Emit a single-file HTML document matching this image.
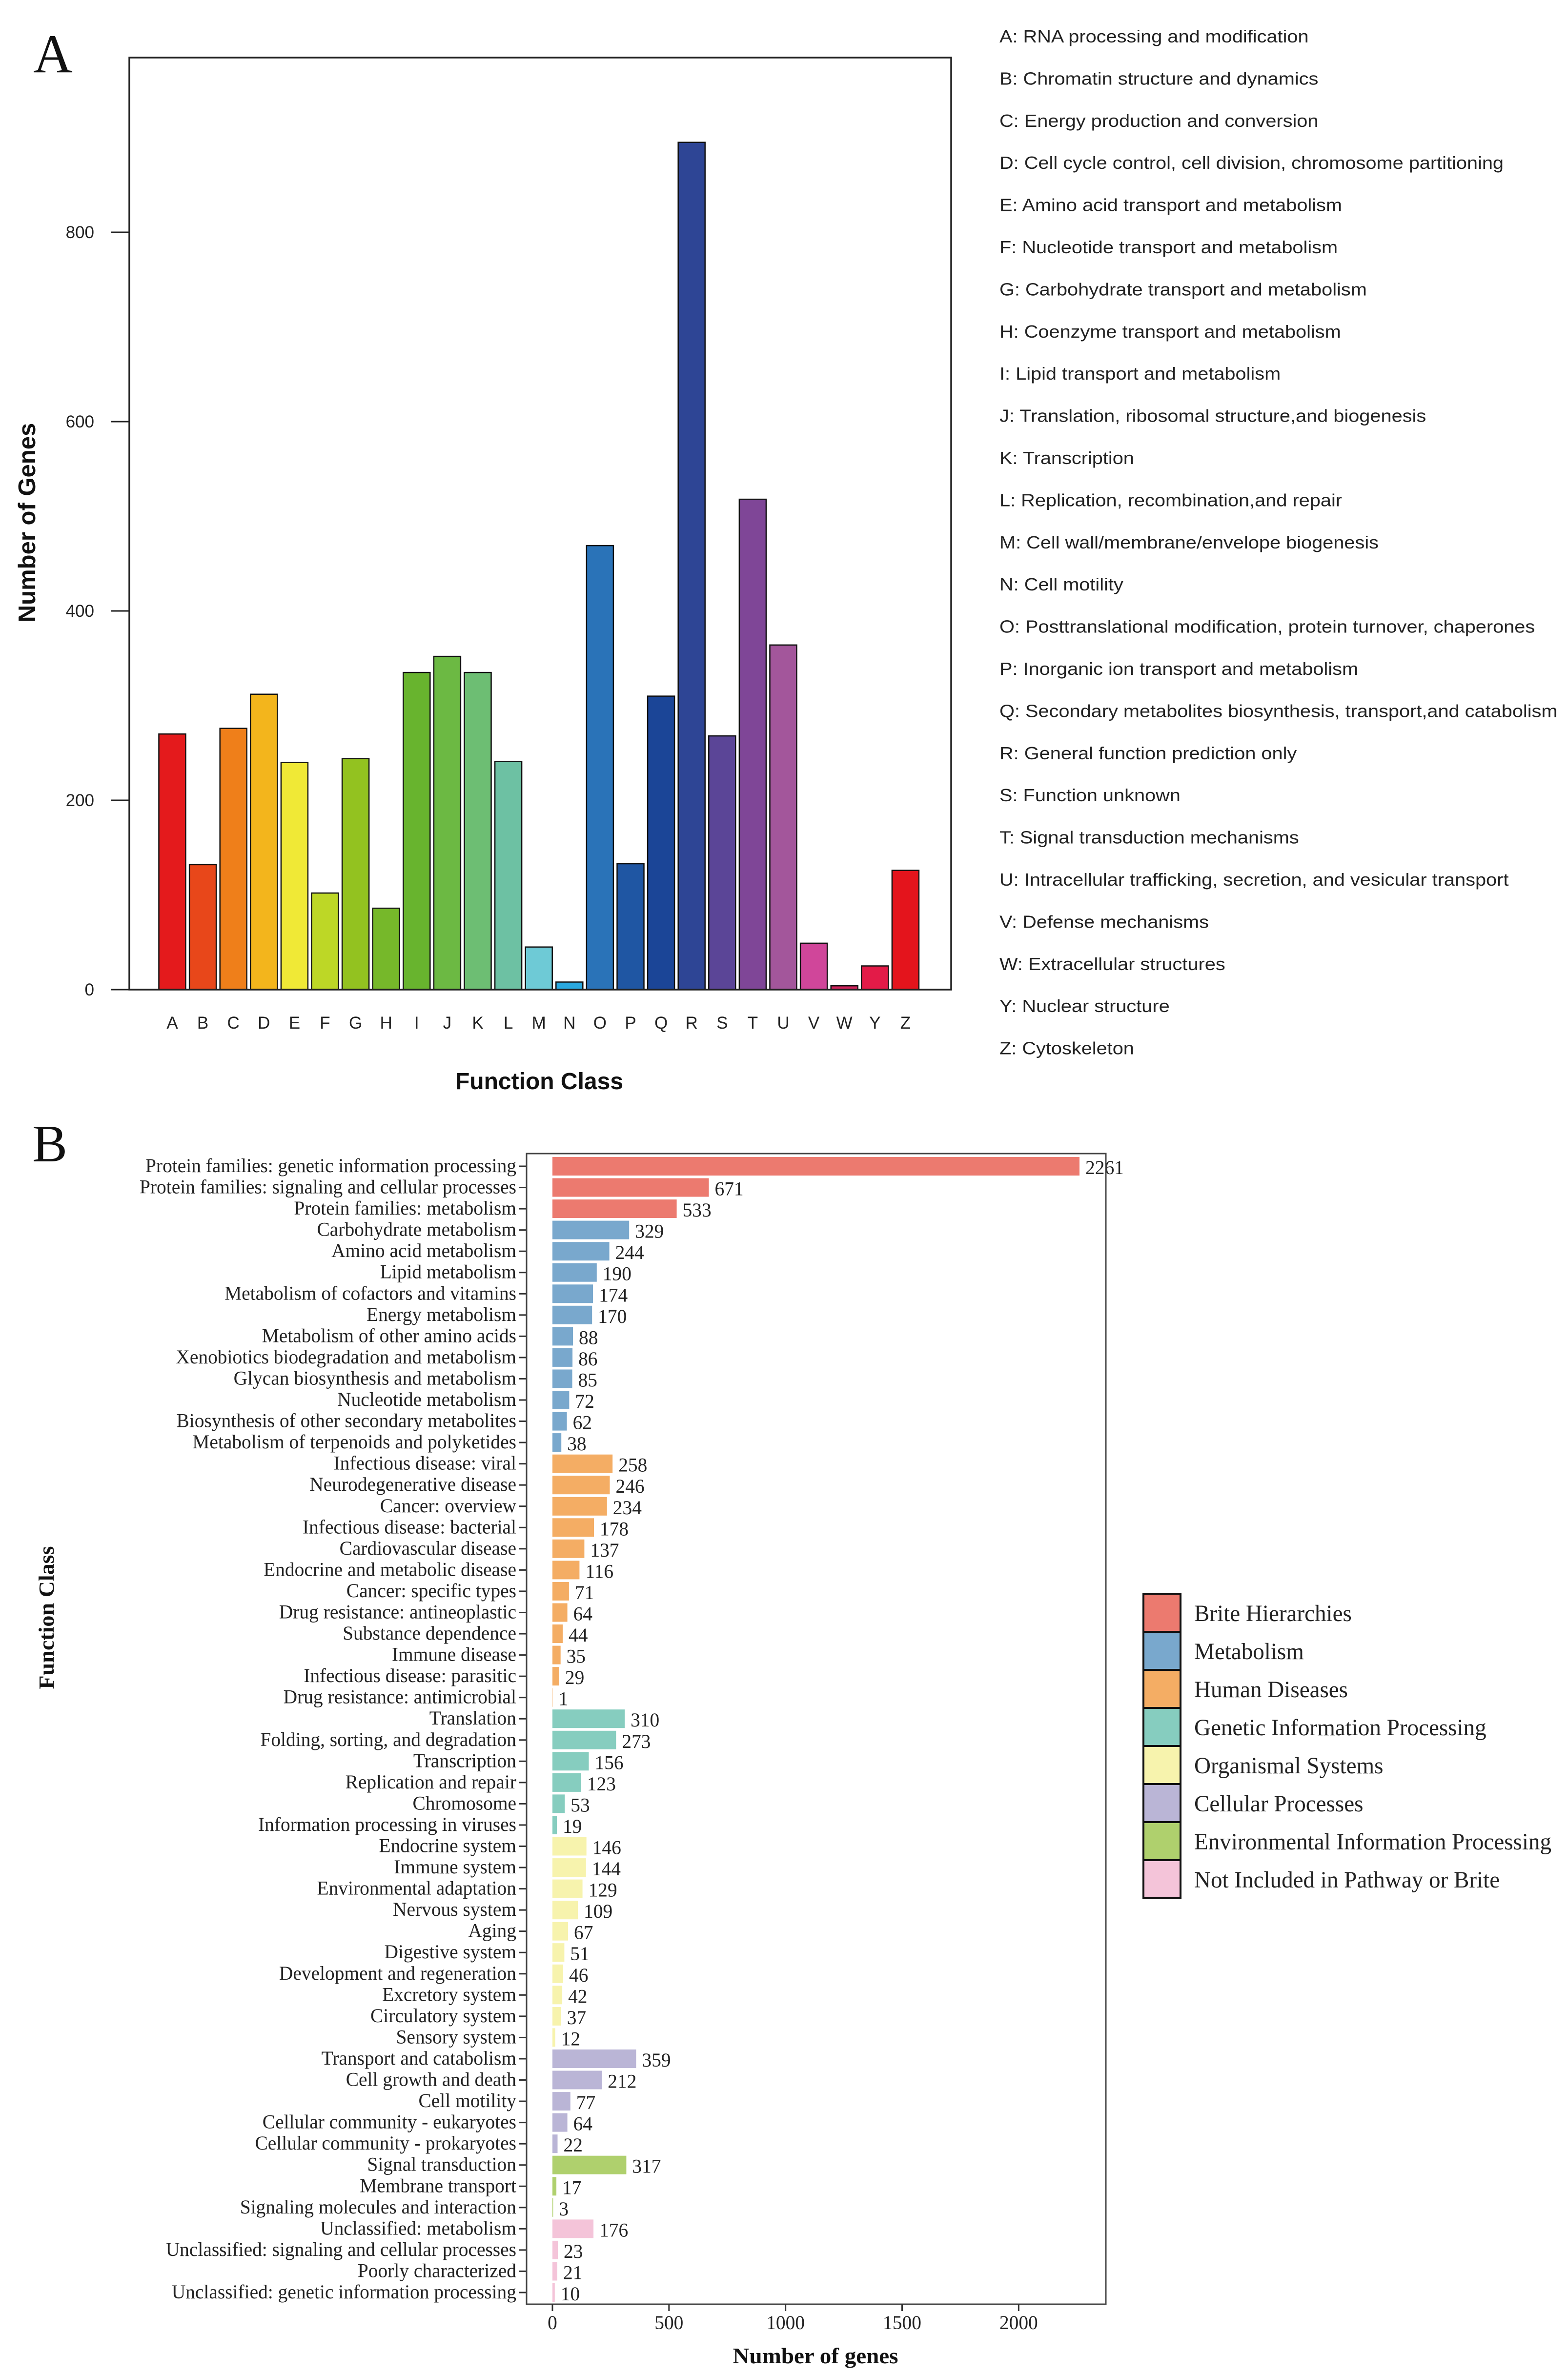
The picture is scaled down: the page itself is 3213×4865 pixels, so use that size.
<!DOCTYPE html>
<html><head><meta charset="utf-8">
<style>
html,body{margin:0;padding:0;background:#fff;}
svg{display:block;}
.sans{font-family:"Liberation Sans",Arial,sans-serif;}
.serif{font-family:"Liberation Serif","Times New Roman",serif;}
</style></head>
<body>
<svg id="fig" xmlns="http://www.w3.org/2000/svg" width="3213" height="4865" viewBox="0 0 3213 4865">
<rect x="0" y="0" width="3213" height="4865" fill="#fff"/>
<g id="panelA"></g>
<g id="panelB"></g>
</svg>
<script>
// ---------- Panel A data ----------
const cogLetters = ["A","B","C","D","E","F","G","H","I","J","K","L","M","N","O","P","Q","R","S","T","U","V","W","Y","Z"];
const cogCounts = [270,132,276,312,240,102,244,86,335,352,335,241,45,8,469,133,310,895,268,518,364,49,4,25,126];
const cogColors = ["#e41a1c","#e8471a","#ef7f1a","#f3b51c","#f0e936","#bdd726","#93c220","#76b82a","#68b42e","#6cb943","#6dbe73","#6dc1a3","#6ecad6","#29a9e0","#2a73b8","#1f56a3","#1b4597","#2e4595","#5b4597","#7f4697","#a3569b","#d0469a","#d0235c","#e31b48","#e4141c"];
const cogYTicks = [0,200,400,600,800];
const cogDescriptions = ["A: RNA processing and modification","B: Chromatin structure and dynamics","C: Energy production and conversion","D: Cell cycle control, cell division, chromosome partitioning","E: Amino acid transport and metabolism","F: Nucleotide transport and metabolism","G: Carbohydrate transport and metabolism","H: Coenzyme transport and metabolism","I: Lipid transport and metabolism","J: Translation, ribosomal structure,and biogenesis","K: Transcription","L: Replication, recombination,and repair","M: Cell wall/membrane/envelope biogenesis","N: Cell motility","O: Posttranslational modification, protein turnover, chaperones","P: Inorganic ion transport and metabolism","Q: Secondary metabolites biosynthesis, transport,and catabolism","R: General function prediction only","S: Function unknown","T: Signal transduction mechanisms","U: Intracellular trafficking, secretion, and vesicular transport","V: Defense mechanisms","W: Extracellular structures","Y: Nuclear structure","Z: Cytoskeleton"];

// ---------- Panel B data ----------
const keggLabels = ["Protein families: genetic information processing","Protein families: signaling and cellular processes","Protein families: metabolism","Carbohydrate metabolism","Amino acid metabolism","Lipid metabolism","Metabolism of cofactors and vitamins","Energy metabolism","Metabolism of other amino acids","Xenobiotics biodegradation and metabolism","Glycan biosynthesis and metabolism","Nucleotide metabolism","Biosynthesis of other secondary metabolites","Metabolism of terpenoids and polyketides","Infectious disease: viral","Neurodegenerative disease","Cancer: overview","Infectious disease: bacterial","Cardiovascular disease","Endocrine and metabolic disease","Cancer: specific types","Drug resistance: antineoplastic","Substance dependence","Immune disease","Infectious disease: parasitic","Drug resistance: antimicrobial","Translation","Folding, sorting, and degradation","Transcription","Replication and repair","Chromosome","Information processing in viruses","Endocrine system","Immune system","Environmental adaptation","Nervous system","Aging","Digestive system","Development and regeneration","Excretory system","Circulatory system","Sensory system","Transport and catabolism","Cell growth and death","Cell motility","Cellular community - eukaryotes","Cellular community - prokaryotes","Signal transduction","Membrane transport","Signaling molecules and interaction","Unclassified: metabolism","Unclassified: signaling and cellular processes","Poorly characterized","Unclassified: genetic information processing"];
const keggValues = [2261,671,533,329,244,190,174,170,88,86,85,72,62,38,258,246,234,178,137,116,71,64,44,35,29,1,310,273,156,123,53,19,146,144,129,109,67,51,46,42,37,12,359,212,77,64,22,317,17,3,176,23,21,10];
const keggGroupIdx = [0,0,0,1,1,1,1,1,1,1,1,1,1,1,2,2,2,2,2,2,2,2,2,2,2,2,3,3,3,3,3,3,4,4,4,4,4,4,4,4,4,4,5,5,5,5,5,6,6,6,7,7,7,7];
const keggGroups = ["Brite Hierarchies","Metabolism","Human Diseases","Genetic Information Processing","Organismal Systems","Cellular Processes","Environmental Information Processing","Not Included in Pathway or Brite"];
const keggGroupColors = ["#ec7a6f","#79a8cd","#f4ad64","#86cdbf","#f7f3ad","#bab5d6","#afd06d","#f4c4d9"];
const keggXTicks = [0,500,1000,1500,2000];

const NS = "http://www.w3.org/2000/svg";
function mk(parent, tag, attrs, text){
  const e = document.createElementNS(NS, tag);
  for (const k in attrs) e.setAttribute(k, attrs[k]);
  if (text !== undefined) e.textContent = text;
  parent.appendChild(e);
  return e;
}
function condense(el, factor){
  const L = el.getComputedTextLength();
  el.setAttribute('textLength', (L*factor).toFixed(1));
  el.setAttribute('lengthAdjust','spacingAndGlyphs');
}

// ================= PANEL A =================
const A = document.getElementById('panelA');
const aL = 265, aR = 1949, aT = 118, aB = 2028;
const ayScale = v => aB - v * (2028 - 476) / 800;
const axCenter = i => 353 + i * 62.6;
const aBarW = 55;

let t = mk(A,'text',{x:68,y:148,'font-size':112,class:'serif',fill:'#111'},'A');



cogLetters.forEach((c,i)=>{
  const h = aB - ayScale(cogCounts[i]);
  const r = mk(A,'rect',{x:(axCenter(i)-aBarW/2).toFixed(1),y:ayScale(cogCounts[i]).toFixed(1),width:aBarW,height:h.toFixed(1),fill:cogColors[i],stroke:'#111','stroke-width':2.5});
  
  
  const l = mk(A,'text',{x:axCenter(i).toFixed(1),y:2108,'font-size':35,class:'sans','text-anchor':'middle',fill:'#222'},c);
  
  
});
let box = mk(A,'path',{d:`M${aL},${aT} H${aR} V${aB} H${aL} Z`,fill:'none',stroke:'#222','stroke-width':3.5});


cogYTicks.forEach(v=>{
  const y = ayScale(v);
  const tk = mk(A,'line',{x1:228,x2:aL,y1:y,y2:y,stroke:'#222','stroke-width':3});
  
  
  const tl = mk(A,'text',{x:193,y:y+12,'font-size':35,class:'sans','text-anchor':'end',fill:'#222'},String(v));
  
  
});
t = mk(A,'text',{x:1105,y:2232,'font-size':48,'font-weight':'bold',class:'sans','text-anchor':'middle',fill:'#111'},'Function Class');


t = mk(A,'text',{x:0,y:0,'font-size':49,'font-weight':'bold',class:'sans','text-anchor':'middle',fill:'#111',transform:'translate(72,1071) rotate(-90)'},'Number of Genes');



// legend A
const legA = mk(A,'g',{});


const legAEls = [];
cogDescriptions.forEach((d,i)=>{
  const e = mk(legA,'text',{x:2048,y:(75 + i*86.4 + 12).toFixed(1),'font-size':36,class:'sans',fill:'#222'},d);
  
  
  legAEls.push(e);
});
const fA = 1033 / legAEls[3].getComputedTextLength();
legAEls.forEach(e=>condense(e,fA));

// ================= PANEL B =================
const B = document.getElementById('panelB');
const bL = 1079, bR = 2266, bT = 2364, bB = 4722;
const bx0 = 1132;
const bxScale = v => bx0 + v * (2212 - 1132) / 2261;
const byCenter = i => 2390 + i * (4698 - 2390) / 53;
const bBarH = 38;

t = mk(B,'text',{x:66,y:2380,'font-size':108,class:'serif',fill:'#111'},'B');



const labEls = [];
keggLabels.forEach((lab,i)=>{
  const yc = byCenter(i);
  const v = keggValues[i];
  const r = mk(B,'rect',{x:bx0,y:(yc-bBarH/2).toFixed(1),width:Math.max(0,bxScale(v)-bx0).toFixed(1),height:bBarH,fill:keggGroupColors[keggGroupIdx[i]]});
  
  
  const vl = mk(B,'text',{x:(bxScale(v)+12).toFixed(1),y:(yc+16).toFixed(1),'font-size':40,class:'serif',fill:'#222'},String(v));
  
  
  vl.setAttribute('data-cond','1');
  const tk = mk(B,'line',{x1:1064,x2:bL,y1:yc,y2:yc,stroke:'#333','stroke-width':3});
  
  
  const ll = mk(B,'text',{x:1058,y:(yc+12).toFixed(1),'font-size':40,class:'serif','text-anchor':'end',fill:'#222'},lab);
  
  
  labEls.push(ll);
});
const fB = 760 / labEls[0].getComputedTextLength();
labEls.forEach(e=>condense(e,fB));
B.querySelectorAll('text[data-cond]').forEach(e=>condense(e,fB));

box = mk(B,'rect',{x:bL,y:bT,width:bR-bL,height:bB-bT,fill:'none',stroke:'#444','stroke-width':3});


keggXTicks.forEach(v=>{
  const x = bxScale(v);
  const tk = mk(B,'line',{x1:x,x2:x,y1:bB,y2:bB+14,stroke:'#333','stroke-width':3});
  
  
  const tl = mk(B,'text',{x:x,y:4773,'font-size':40,class:'serif','text-anchor':'middle',fill:'#222'},String(v));
  
  
  condense(tl,fB);
});
t = mk(B,'text',{x:1671,y:4843,'font-size':46,'font-weight':'bold',class:'serif','text-anchor':'middle',fill:'#111'},'Number of genes');


condense(t, 339 / t.getComputedTextLength());
t = mk(B,'text',{x:0,y:0,'font-size':44,'font-weight':'bold',class:'serif','text-anchor':'middle',fill:'#111',transform:'translate(110,3315) rotate(-90)'},'Function Class');


condense(t, 293 / t.getComputedTextLength());

// legend B
const legB = mk(B,'g',{});


const legBEls = [];
keggGroups.forEach((g,i)=>{
  const y = 3266 + i*78;
  const k = mk(legB,'rect',{x:2343,y:y,width:76,height:78,fill:keggGroupColors[i],stroke:'#111','stroke-width':4});
  
  
  const e = mk(legB,'text',{x:2447,y:y+56,'font-size':48,class:'serif',fill:'#222'},g);
  
  
  legBEls.push(e);
});
const fL = 732 / legBEls[6].getComputedTextLength();
legBEls.forEach(e=>condense(e,fL));
</script>
</body></html>
